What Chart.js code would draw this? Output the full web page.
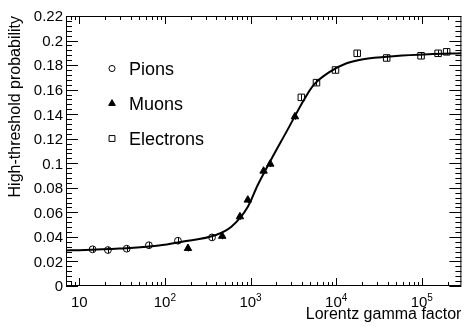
<!DOCTYPE html>
<html><head><meta charset="utf-8">
<script src="https://cdn.jsdelivr.net/npm/chart.js@4/dist/chart.umd.min.js"></script>
<style>html,body{margin:0;padding:0;background:#fff}#wrap{width:467px;height:327px;position:relative}</style>
</head><body><div id="wrap"><canvas id="c" width="467" height="327"></canvas></div>
<script>
// ---- data ----
const pionGamma = [14.3, 21.6, 35.8, 65, 142, 355];
const pionProb  = [0.0299, 0.0293, 0.0304, 0.0332, 0.0369, 0.0396];
const pionErr   = [0.0025, 0.0025, 0.0025, 0.0025, 0.0025, 0.0025];

const muonGamma = [186, 467, 752, 929, 1420, 1700, 3300];
const muonProb  = [0.0307, 0.0406, 0.0565, 0.0701, 0.0937, 0.0994, 0.138];
const muonErr   = [0.0025, 0.0025, 0.0025, 0.0025, 0.0025, 0.0025, 0.0025];

const electronGamma = [3920, 5890, 9820, 17600, 38900, 98000, 155000, 195000];
const electronProb  = [0.1537, 0.1657, 0.176, 0.1896, 0.1858, 0.1876, 0.1896, 0.1908];
const electronErr   = [0.0025, 0.0025, 0.0025, 0.0025, 0.0025, 0.0025, 0.0025, 0.0025];

const fitGamma = [7, 10, 29.4, 85, 158, 385, 597, 931, 1214, 1729, 2692, 4197, 5470, 8510, 13250, 20640, 50000, 120000, 290000];
const fitProb  = [0.029, 0.0292, 0.0305, 0.033, 0.0361, 0.0413, 0.0483, 0.0646, 0.0823, 0.1027, 0.127, 0.1516, 0.1638, 0.1747, 0.1815, 0.1848, 0.1874, 0.1888, 0.1896];

const seriesNames = ['Pions', 'Muons', 'Electrons'];

const yTickValues = [0, 0.02, 0.04, 0.06, 0.08, 0.1, 0.12, 0.14, 0.16, 0.18, 0.2, 0.22];
const yTickLabels = ['0', '0.02', '0.04', '0.06', '0.08', '0.1', '0.12', '0.14', '0.16', '0.18', '0.2', '0.22'];
const xTickValues = [10, 100, 1000, 10000, 100000];
const xTickBases  = ['10', '10', '10', '10', '10'];
const xTickExps   = ['', '2', '3', '4', '5'];

const xTitle = 'Lorentz gamma factor';
const yTitle = 'High-threshold probability';

const X_MIN = 7, X_MAX = 290000, Y_MIN = 0, Y_MAX = 0.22;
const FONT = '"Liberation Sans", Arial, Helvetica, sans-serif';

function pts(xs, ys) { return xs.map((x, i) => ({ x: x, y: ys[i] })); }

const errs = [pionErr, muonErr, electronErr];

const axisPlugin = {
  id: 'rootAxes',
  afterDatasetsDraw(chart) {
    const ctx = chart.ctx;
    const xs = chart.scales.x, ys = chart.scales.y;
    ctx.save();
    ctx.strokeStyle = '#000';
    ctx.lineWidth = 1;
    [1, 2, 3].forEach((di, k) => {
      const ds = chart.data.datasets[di];
      ds.data.forEach((p, i) => {
        const px = Math.round(xs.getPixelForValue(p.x)) + 0.5;
        const y1 = ys.getPixelForValue(p.y - errs[k][i]);
        const y2 = ys.getPixelForValue(p.y + errs[k][i]);
        ctx.beginPath(); ctx.moveTo(px, y1); ctx.lineTo(px, y2); ctx.stroke();
      });
    });
    ctx.restore();
  },
  afterDraw(chart) {
    const ctx = chart.ctx;
    const a = chart.chartArea;
    const xs = chart.scales.x, ys = chart.scales.y;
    const L = a.left, R = a.right, T = a.top, B = a.bottom;
    ctx.save();
    ctx.strokeStyle = '#000';
    ctx.fillStyle = '#000';
    ctx.lineWidth = 1;
    ctx.strokeRect(L + 0.5, T + 0.5, R - L - 1, B - T - 1);
    ctx.beginPath();
    for (let k = 0; k <= 55; k++) {
      const v = k * 0.004;
      if (v > Y_MAX + 1e-9) break;
      const py = Math.round(ys.getPixelForValue(v)) + 0.5;
      const len = (k % 5 === 0) ? 12 : 6;
      ctx.moveTo(L, py); ctx.lineTo(L + len, py);
      ctx.moveTo(R, py); ctx.lineTo(R - len, py);
    }
    for (let d = 1; d <= 1e6; d *= 10) {
      for (let m = 1; m <= 9; m++) {
        const v = d * m;
        if (v < X_MIN || v > X_MAX) continue;
        const px = Math.round(xs.getPixelForValue(v)) + 0.5;
        const len = (m === 1) ? 8 : 4;
        ctx.moveTo(px, B); ctx.lineTo(px, B - len);
        ctx.moveTo(px, T); ctx.lineTo(px, T + len);
      }
    }
    ctx.stroke();
    ctx.font = '15px ' + FONT;
    ctx.textAlign = 'right';
    ctx.textBaseline = 'alphabetic';
    yTickValues.forEach((v, i) => {
      const py = ys.getPixelForValue(v);
      ctx.fillText(yTickLabels[i], L - 3, py + 5.4);
    });
    xTickValues.forEach((v, i) => {
      const px = xs.getPixelForValue(v);
      ctx.font = '15px ' + FONT;
      const wb = ctx.measureText(xTickBases[i]).width;
      ctx.font = '10px ' + FONT;
      const we = xTickExps[i] ? ctx.measureText(xTickExps[i]).width : 0;
      const x0 = px - (wb + we) / 2;
      ctx.textAlign = 'left';
      ctx.font = '15px ' + FONT;
      ctx.fillText(xTickBases[i], x0, 307);
      if (xTickExps[i]) {
        ctx.font = '10px ' + FONT;
        ctx.fillText(xTickExps[i], x0 + wb, 300.5);
      }
    });
    ctx.font = '16px ' + FONT;
    ctx.textAlign = 'right';
    ctx.fillText(xTitle, R, 319);
    ctx.save();
    ctx.translate(20, T);
    ctx.rotate(-Math.PI / 2);
    ctx.textAlign = 'right';
    ctx.fillText(yTitle, 0, 0);
    ctx.restore();
    // legend
    const lx = 112, ly = [68.5, 103.5, 138.5], tb = [75, 110, 145];
    [1, 2, 3].forEach((di, k) => {
      const ds = chart.data.datasets[di];
      ctx.save();
      ctx.lineWidth = 1;
      ctx.strokeStyle = '#000';
      ctx.fillStyle = ds.pointBackgroundColor;
      Chart.helpers.drawPoint(ctx, { pointStyle: ds.pointStyle, rotation: 0, borderWidth: 1, radius: ds.pointRadius * 0.9 }, lx, ly[k]);
      ctx.restore();
      ctx.font = '18px ' + FONT;
      ctx.textAlign = 'left';
      ctx.fillStyle = '#000';
      ctx.fillText(seriesNames[k], 129, tb[k]);
    });
    ctx.restore();
  }
};

new Chart(document.getElementById('c'), {
  type: 'scatter',
  data: {
    datasets: [
      { label: 'fit', data: pts(fitGamma, fitProb), showLine: true, pointRadius: 0,
        borderColor: '#000', borderWidth: 2, cubicInterpolationMode: 'monotone', order: 0 },
      { label: seriesNames[0], data: pts(pionGamma, pionProb), pointStyle: 'circle', pointRadius: 3.4,
        pointBorderColor: '#000', pointBackgroundColor: 'rgba(0,0,0,0)', pointBorderWidth: 1, order: 1 },
      { label: seriesNames[1], data: pts(muonGamma, muonProb), pointStyle: 'triangle', pointRadius: 4.3,
        pointBorderColor: '#000', pointBackgroundColor: '#000', pointBorderWidth: 1, order: 1 },
      { label: seriesNames[2], data: pts(electronGamma, electronProb), pointStyle: 'rect', pointRadius: 4.6,
        pointBorderColor: '#000', pointBackgroundColor: 'rgba(0,0,0,0)', pointBorderWidth: 1, order: 1 }
    ]
  },
  options: {
    responsive: false,
    animation: false,
    devicePixelRatio: 1,
    layout: { padding: { left: 66, right: 1, top: 16, bottom: 41 } },
    plugins: { legend: { display: false }, tooltip: { enabled: false } },
    scales: {
      x: { type: 'logarithmic', min: X_MIN, max: X_MAX, display: false },
      y: { type: 'linear', min: Y_MIN, max: Y_MAX, display: false }
    }
  },
  plugins: [axisPlugin]
});
</script>
</body></html>
